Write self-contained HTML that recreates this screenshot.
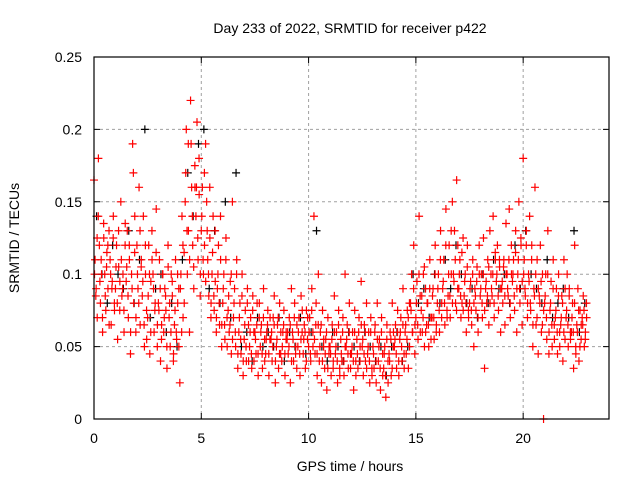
<!DOCTYPE html>
<html><head><meta charset="utf-8"><style>
body{margin:0;background:#fff;}
svg{display:block;font-family:"Liberation Sans",sans-serif;}
</style></head><body>
<svg id="chart" width="640" height="480" viewBox="0 0 640 480">
<text x="350" y="33" font-size="14" text-anchor="middle">Day 233 of 2022, SRMTID for receiver p422</text>
<text x="350" y="471" font-size="14" text-anchor="middle">GPS time / hours</text>
<text transform="translate(19,238) rotate(-90)" font-size="14" text-anchor="middle">SRMTID / TECUs</text>
<g id="grid"></g><g id="ticks"></g><g id="marks"></g>
<rect x="94" y="57" width="515" height="362" fill="none" stroke="#000" stroke-width="1.2"/>
</svg>
<script>
const xTicks=[0,5,10,15,20];
const yTicks=[0,0.05,0.1,0.15,0.2,0.25];
const yTickLabels=["0","0.05","0.1","0.15","0.2","0.25"];
const stepHours=0.25;
const redRows=[
[0.165,0.11,0.09,0.07,0.14],[0.12,0.08,0.10,0.06,0.135],[0.1,0.075,0.115,0.09,0.13],[0.11,0.065,0.095,0.14,0.08],
[0.09,0.12,0.055,0.105,0.075],[0.15,0.085,0.1,0.06,0.12],[0.095,0.13,0.07,0.11,0.045],[0.1,0.19,0.08,0.14,0.06],
[0.12,0.09,0.16,0.065,0.105],[0.085,0.14,0.05,0.1,0.075],[0.07,0.12,0.045,0.095,0.13],[0.1,0.06,0.08,0.145,0.05],
[0.08,0.11,0.04,0.065,0.1],[0.06,0.09,0.075,0.035,0.12],[0.07,0.05,0.1,0.085,0.04],[0.065,0.11,0.055,0.08,0.09],
[0.025,0.1,0.14,0.07,0.115],[0.15,0.2,0.1,0.13,0.06],[0.22,0.16,0.12,0.09,0.175],[0.14,0.205,0.11,0.155,0.085],
[0.13,0.16,0.1,0.12,0.19],[0.15,0.11,0.085,0.125,0.07],[0.1,0.14,0.075,0.095,0.06],[0.09,0.12,0.065,0.11,0.05],
[0.08,0.1,0.055,0.125,0.07],[0.075,0.06,0.095,0.045,0.15],[0.07,0.09,0.05,0.11,0.035],[0.06,0.08,0.045,0.1,0.03],
[0.055,0.075,0.04,0.09,0.065],[0.05,0.07,0.035,0.085,0.06],[0.06,0.045,0.08,0.03,0.07],[0.05,0.065,0.035,0.09,0.055],
[0.045,0.06,0.075,0.03,0.055],[0.055,0.04,0.07,0.085,0.025],[0.05,0.065,0.035,0.08,0.045],[0.04,0.06,0.075,0.03,0.055],
[0.055,0.045,0.07,0.025,0.09],[0.06,0.04,0.08,0.05,0.035],[0.05,0.07,0.03,0.085,0.06],[0.045,0.065,0.035,0.075,0.055],
[0.05,0.07,0.04,0.09,0.06],[0.14,0.045,0.08,0.03,0.065],[0.04,0.06,0.025,0.075,0.05],[0.035,0.055,0.02,0.07,0.045],
[0.05,0.03,0.065,0.04,0.085],[0.045,0.06,0.025,0.075,0.035],[0.055,0.04,0.07,0.03,0.1],[0.05,0.065,0.035,0.08,0.045],
[0.045,0.06,0.02,0.075,0.04],[0.055,0.035,0.07,0.05,0.095],[0.05,0.03,0.065,0.04,0.08],[0.045,0.06,0.025,0.07,0.035],
[0.05,0.035,0.065,0.025,0.08],[0.04,0.055,0.02,0.07,0.045],[0.035,0.05,0.015,0.065,0.04],[0.045,0.06,0.03,0.08,0.05],
[0.05,0.065,0.035,0.075,0.04],[0.055,0.07,0.04,0.09,0.045],[0.06,0.045,0.075,0.035,0.08],[0.08,0.1,0.06,0.12,0.045],
[0.07,0.095,0.055,0.14,0.085],[0.075,0.06,0.1,0.05,0.09],[0.065,0.08,0.05,0.11,0.07],[0.07,0.09,0.055,0.12,0.06],
[0.08,0.1,0.06,0.13,0.07],[0.09,0.11,0.065,0.145,0.075],[0.085,0.12,0.07,0.1,0.15],[0.1,0.13,0.08,0.165,0.09],
[0.09,0.11,0.07,0.08,0.125],[0.085,0.1,0.06,0.12,0.075],[0.08,0.095,0.065,0.11,0.05],[0.09,0.075,0.105,0.06,0.12],
[0.085,0.1,0.07,0.125,0.035],[0.09,0.08,0.11,0.065,0.13],[0.1,0.085,0.14,0.07,0.115],[0.095,0.12,0.075,0.105,0.06],
[0.09,0.08,0.11,0.065,0.135],[0.1,0.085,0.145,0.07,0.12],[0.095,0.11,0.075,0.13,0.06],[0.1,0.15,0.08,0.12,0.065],
[0.18,0.11,0.085,0.13,0.07],[0.1,0.14,0.075,0.12,0.05],[0.09,0.16,0.065,0.11,0.045],[0.085,0.12,0.06,0.1,0.0],
[0.08,0.1,0.055,0.13,0.045],[0.075,0.095,0.05,0.11,0.065],[0.07,0.09,0.045,0.1,0.06],[0.065,0.085,0.04,0.11,0.055],
[0.07,0.1,0.05,0.09,0.06],[0.06,0.08,0.035,0.12,0.05],[0.065,0.09,0.04,0.075,0.055],[0.07,0.085,0.05,0.06,0.08]
];
const redRows2=[
[0.1,0.085,0.125,0.18],[0.095,0.11,0.07,0.125],[0.085,0.105,0.12,0.065],[0.1,0.09,0.125,0.075],
[0.105,0.08,0.13,0.095],[0.11,0.09,0.075,0.135],[0.105,0.085,0.12,0.06],[0.09,0.17,0.115,0.07],
[0.1,0.08,0.13,0.11],[0.095,0.065,0.12,0.055],[0.085,0.1,0.06,0.11],[0.09,0.075,0.115,0.065],
[0.075,0.09,0.055,0.1],[0.07,0.085,0.05,0.105],[0.08,0.06,0.095,0.045],[0.075,0.06,0.1,0.05],
[0.09,0.06,0.12,0.08],[0.17,0.13,0.19,0.11],[0.19,0.14,0.105,0.16],[0.16,0.125,0.18,0.1],
[0.14,0.11,0.17,0.095],[0.13,0.1,0.16,0.08],[0.115,0.085,0.13,0.07],[0.1,0.08,0.14,0.065],
[0.09,0.065,0.11,0.05],[0.085,0.065,0.1,0.055],[0.08,0.06,0.1,0.045],[0.07,0.055,0.085,0.04],
[0.065,0.05,0.08,0.04],[0.06,0.045,0.075,0.04],[0.055,0.065,0.045,0.08],[0.06,0.045,0.07,0.04],
[0.055,0.065,0.045,0.07],[0.06,0.05,0.065,0.04],[0.055,0.07,0.045,0.06],[0.05,0.065,0.045,0.06],
[0.06,0.05,0.065,0.04],[0.055,0.07,0.045,0.065],[0.06,0.045,0.055,0.075],[0.055,0.06,0.04,0.07],
[0.06,0.045,0.075,0.05],[0.055,0.065,0.045,0.1],[0.05,0.065,0.04,0.055],[0.045,0.06,0.035,0.05],
[0.045,0.055,0.035,0.06],[0.05,0.04,0.065,0.03],[0.045,0.06,0.04,0.05],[0.055,0.045,0.06,0.035],
[0.05,0.04,0.06,0.03],[0.045,0.06,0.04,0.065],[0.055,0.045,0.06,0.035],[0.05,0.04,0.06,0.03],
[0.045,0.06,0.04,0.055],[0.05,0.035,0.06,0.03],[0.045,0.03,0.055,0.025],[0.04,0.055,0.035,0.06],
[0.055,0.045,0.06,0.03],[0.06,0.05,0.065,0.035],[0.065,0.055,0.07,0.05],[0.075,0.06,0.09,0.065],
[0.08,0.065,0.1,0.06],[0.085,0.07,0.105,0.06],[0.08,0.065,0.09,0.055],[0.085,0.07,0.1,0.065],
[0.09,0.075,0.11,0.08],[0.095,0.08,0.12,0.07],[0.1,0.085,0.13,0.08],[0.095,0.11,0.075,0.12],
[0.1,0.085,0.115,0.075],[0.095,0.08,0.105,0.07],[0.09,0.075,0.1,0.08],[0.085,0.095,0.07,0.1],
[0.09,0.08,0.1,0.075],[0.095,0.085,0.105,0.08],[0.09,0.1,0.08,0.11],[0.1,0.085,0.11,0.09],
[0.095,0.105,0.085,0.1],[0.09,0.11,0.08,0.1],[0.1,0.085,0.115,0.09],[0.11,0.09,0.125,0.095],
[0.1,0.09,0.12,0.08],[0.095,0.08,0.11,0.065],[0.085,0.1,0.07,0.09],[0.08,0.095,0.065,0.075],
[0.085,0.07,0.1,0.06],[0.08,0.065,0.09,0.055],[0.075,0.06,0.085,0.05],[0.07,0.08,0.06,0.09],
[0.075,0.065,0.085,0.055],[0.07,0.06,0.08,0.045],[0.06,0.075,0.05,0.065],[0.065,0.075,0.055,0.07]
];
const blackVals=[0.14,0.1,0.08,0.12,0.1,0.09,0.13,0.08,0.11,0.2,0.07,0.09,0.1,0.06,0.08,0.05,
0.11,0.17,0.14,0.19,0.2,0.09,0.13,0.08,0.15,0.07,0.17,0.05,0.06,0.04,0.07,0.05,
0.06,0.05,0.07,0.04,0.06,0.05,0.07,0.045,0.06,0.13,0.05,0.04,0.06,0.05,0.04,0.06,
0.05,0.04,0.06,0.05,0.04,0.05,0.03,0.05,0.06,0.04,0.05,0.1,0.08,0.09,0.07,0.1,
0.08,0.11,0.09,0.12,0.1,0.08,0.09,0.07,0.1,0.08,0.11,0.09,0.1,0.08,0.12,0.09,
0.13,0.1,0.09,0.08,0.11,0.07,0.08,0.09,0.07,0.13,0.06,0.08];
const X0=94,X1=609,Y0=419,Y1=57,XMAX=24,YMAX=0.25;
function xs(v){return X0+(X1-X0)*v/XMAX;}
function ys(v){return Y0-(Y0-Y1)*v/YMAX;}
const NS="http://www.w3.org/2000/svg";
const grid=document.getElementById('grid'),ticks=document.getElementById('ticks'),marks=document.getElementById('marks');
function mk(tag,attrs,parent){const e=document.createElementNS(NS,tag);for(const k in attrs)e.setAttribute(k,attrs[k]);parent.appendChild(e);return e;}
xTicks.forEach(t=>{const x=xs(t);
 if(t>0){const g=mk('line',{x1:x,x2:x,y1:Y1,y2:Y0,stroke:'#a0a0a0','stroke-dasharray':'3,3'},grid);
 
 }
 const tk=mk('path',{d:`M${x},${Y0}v-6M${x},${Y1}v6`,stroke:'#000'},ticks);
 
 
 const lb=mk('text',{x:x,y:Y0+24,'font-size':14,'text-anchor':'middle'},ticks);lb.textContent=t;
 
 
});
yTicks.forEach((t,i)=>{const y=ys(t);
 if(t>0&&t<YMAX){const g=mk('line',{x1:X0,x2:X1,y1:y,y2:y,stroke:'#a0a0a0','stroke-dasharray':'3,3'},grid);
 
 }
 const tk=mk('path',{d:`M${X0},${y}h6M${X1},${y}h-6`,stroke:'#000'},ticks);
 
 
 const lb=mk('text',{x:X0-12,y:y+5,'font-size':14,'text-anchor':'end'},ticks);lb.textContent=yTickLabels[i];
 
 
});
function plus(x,y,color,name){const p=mk('path',{d:`M${x-4},${y}h8M${x},${y-4}v8`,stroke:color,'stroke-width':1.2},marks);
 
 }
blackVals.forEach((v,i)=>{plus(xs(i*stepHours+0.12),ys(v),'#000','black-point');});
redRows.forEach((row,i)=>{row.forEach((v,j)=>{plus(xs(i*stepHours+j*0.05),ys(v),'#f00','red-point');});});
redRows2.forEach((row,i)=>{row.forEach((v,j)=>{plus(xs(i*stepHours+0.025+j*0.06),ys(v),'#f00','red-point');});});
</script>
</body></html>
